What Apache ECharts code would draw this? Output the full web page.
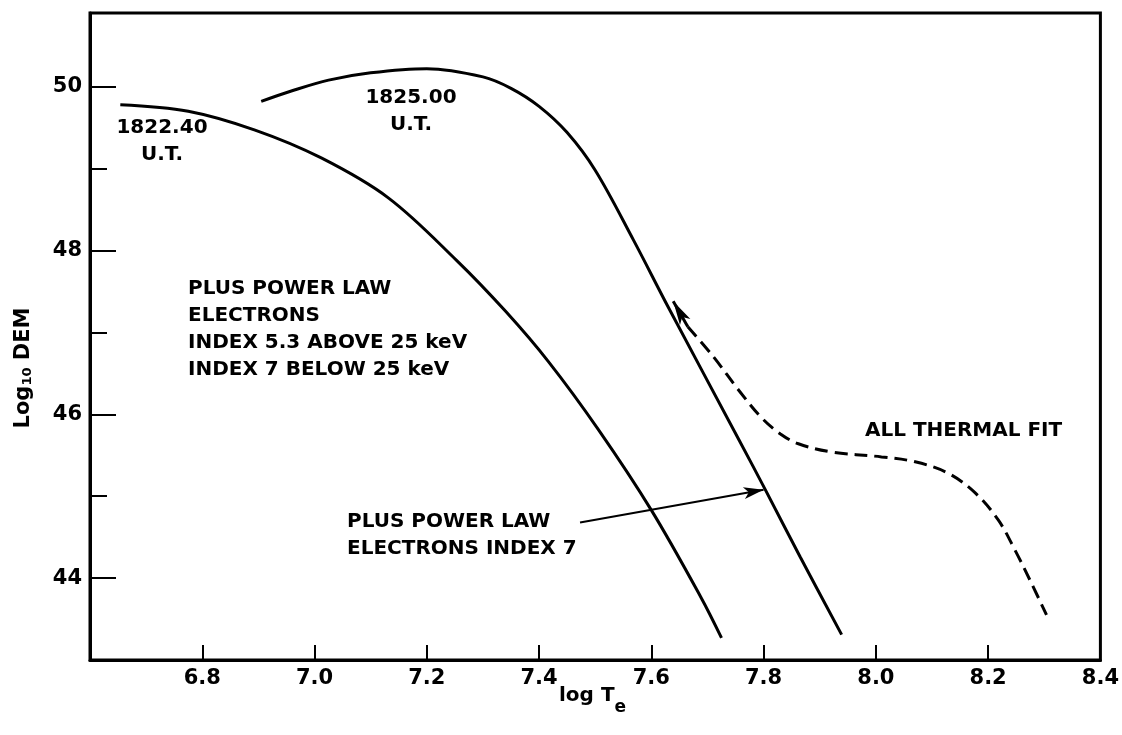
<!DOCTYPE html>
<html>
<head>
    <meta charset="utf-8">
    <script src="https://cdn.jsdelivr.net/npm/echarts@6/dist/echarts.min.js"></script>
</head>
<body style="margin:0;background:#fff">
<div id="main" style="position: absolute; left: 0; top: 0; width: 1122px; height: 735px"></div>
<script type="text/javascript">
    // curve: 1822.40 U.T.
    var xEarly = [6.654, 6.775, 6.894, 7.012, 7.132, 7.253, 7.340, 7.417, 7.506, 7.600, 7.688, 7.725];
    var yEarly = [49.78, 49.70, 49.47, 49.13, 48.64, 47.88, 47.26, 46.64, 45.81, 44.83, 43.77, 43.27];
    // 1825.00 U.T.
    var xLate = [6.905, 6.96, 7.025, 7.10, 7.20, 7.30, 7.35, 7.40, 7.45, 7.50, 7.568, 7.630, 7.756, 7.803, 7.865, 7.939];
    var yLate = [49.82, 49.95, 50.08, 50.17, 50.22, 50.12, 49.98, 49.76, 49.44, 48.98, 48.13, 47.31, 45.69, 45.08, 44.26, 43.31];
    // all thermal fit (dashed)
    var xThermal = [7.665, 7.711, 7.755, 7.796, 7.830, 7.862, 7.921, 8.010, 8.070, 8.129, 8.177, 8.218, 8.248, 8.277, 8.304];
    var yThermal = [47.07, 46.70, 46.30, 45.96, 45.76, 45.64, 45.54, 45.48, 45.42, 45.28, 45.04, 44.71, 44.34, 43.94, 43.55];

    var xTickVals = [6.8, 7.0, 7.2, 7.4, 7.6, 7.8, 8.0, 8.2];
    var xLabelVals = [6.8, 7.0, 7.2, 7.4, 7.6, 7.8, 8.0, 8.2, 8.4];
    var yMajor = [44, 46, 48, 50];
    var yMinor = [45, 47, 49];

    function pairs(xs, ys) {
        return xs.map(function (x, i) { return [x, ys[i]]; });
    }

    var font = 'DejaVu Sans';
    var myChart = echarts.init(document.getElementById('main'));

    var lineBase = {
        type: 'line',
        showSymbol: false,
        smooth: 0.35,
        silent: true,
        animation: false,
        lineStyle: { color: '#000', width: 3 }
    };

    function txt(x, y, s, align) {
        return {
            type: 'text', x: x, y: y, silent: true,
            style: {
                text: s, fill: '#000', font: 'bold 20px "' + font + '"',
                align: align || 'center', verticalAlign: 'middle', lineHeight: 27
            }
        };
    }

    option = {
        backgroundColor: '#fff',
        animation: false,
        grid: {
            left: 90, right: 21, top: 13, bottom: 75,
            show: true, borderColor: '#000', borderWidth: 3
        },
        xAxis: {
            type: 'value', min: 6.6, max: 8.4, interval: 0.2,
            axisLine: { lineStyle: { color: '#000', width: 3 } },
            axisTick: { inside: true, length: 15, customValues: xTickVals, lineStyle: { color: '#000', width: 2 } },
            axisLabel: {
                customValues: xLabelVals, margin: 8, color: '#000',
                fontFamily: font, fontWeight: 'bold', fontSize: 21,
                formatter: function (v) { return v.toFixed(1); }
            },
            splitLine: { show: false }
        },
        yAxis: [{
            type: 'value', min: 43, max: 50.9, interval: 1,
            axisLine: { show: true, lineStyle: { color: '#000', width: 3 } },
            axisTick: { inside: true, length: 26, customValues: yMajor, lineStyle: { color: '#000', width: 2 } },
            axisLabel: {
                customValues: yMajor, margin: 8, color: '#000',
                fontFamily: font, fontWeight: 'bold', fontSize: 21
            },
            splitLine: { show: false }
        }, {
            type: 'value', min: 43, max: 50.9, interval: 1, position: 'left',
            axisLine: { show: false },
            axisTick: { show: true, inside: true, length: 17, customValues: yMinor, lineStyle: { color: '#000', width: 2 } },
            axisLabel: { show: false },
            splitLine: { show: false }
        }],
        graphic: [
            txt(162, 141, '1822.40\nU.T.'),
            txt(411, 111, '1825.00\nU.T.'),
            txt(188, 329, 'PLUS POWER LAW\nELECTRONS\nINDEX 5.3 ABOVE 25 keV\nINDEX 7 BELOW 25 keV', 'left'),
            txt(347, 535, 'PLUS POWER LAW\nELECTRONS INDEX 7', 'left'),
            txt(865, 431, 'ALL THERMAL FIT', 'left'),
            {
                type: 'text', x: 24, y: 368, rotation: Math.PI / 2, silent: true,
                style: {
                    text: '{a|Log}{s|10}{a| DEM}', align: 'center', verticalAlign: 'middle',
                    rich: {
                        a: { font: 'bold 21px "' + font + '"', fill: '#000' },
                        s: { font: 'bold 13px "' + font + '"', fill: '#000', verticalAlign: 'bottom' }
                    }
                }
            },
            {
                type: 'text', x: 559, y: 700, silent: true,
                style: {
                    text: '{a|log T}{s|e}', align: 'left', verticalAlign: 'middle',
                    rich: {
                        a: { font: 'bold 20px "' + font + '"', fill: '#000', verticalAlign: 'top', height: 24 },
                        s: { font: 'bold 17px "' + font + '"', fill: '#000', verticalAlign: 'bottom', padding: [16, 0, 0, 0] }
                    }
                }
            }
        ],
        series: [
            Object.assign({}, lineBase, { name: '1822.40', data: pairs(xEarly, yEarly) }),
            Object.assign({}, lineBase, {
                name: '1825.00', data: pairs(xLate, yLate),
                markLine: {
                    silent: true, animation: false, label: { show: false },
                    lineStyle: { color: '#000', width: 2, type: 'solid' },
                    data: [[
                        { coord: [7.473, 44.68], symbol: 'none' },
                        { coord: [7.800, 45.08], symbol: 'arrow', symbolSize: [9, 20] }
                    ]]
                }
            }),
            Object.assign({}, lineBase, {
                name: 'ALL THERMAL FIT', data: pairs(xThermal, yThermal),
                lineStyle: { color: '#000', width: 3, type: [13, 7] },
                markLine: {
                    silent: true, animation: false, label: { show: false },
                    lineStyle: { color: '#000', width: 3, type: 'solid' },
                    data: [[
                        { coord: [7.665, 47.07], symbol: 'none' },
                        { coord: [7.639, 47.38], symbol: 'arrow', symbolSize: [9, 24] }
                    ]]
                }
            })
        ]
    };

    myChart.setOption(option);
</script>
</body>
</html>
